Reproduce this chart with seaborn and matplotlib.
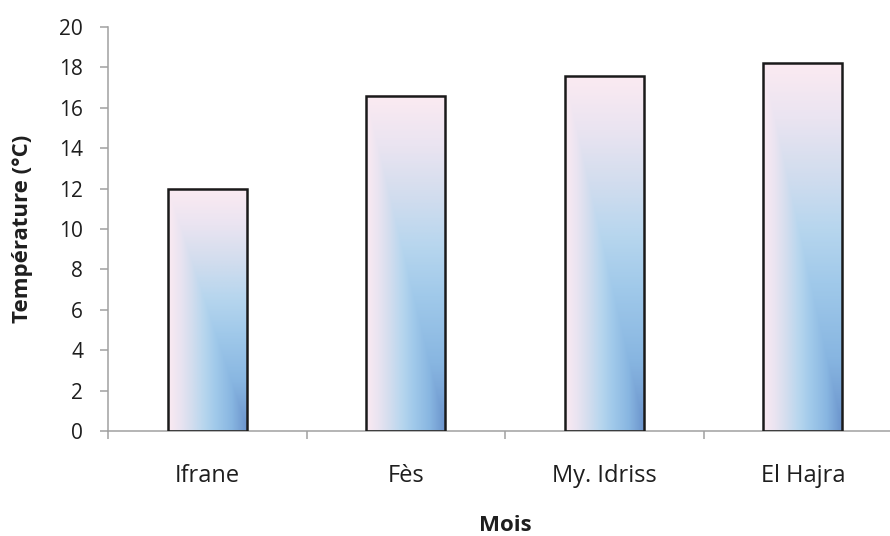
import numpy as np
import pandas as pd
import matplotlib
matplotlib.use("Agg")
import matplotlib.pyplot as plt
from matplotlib.colors import LinearSegmentedColormap
from matplotlib.ticker import FixedLocator
import seaborn as sns

# Mean temperature per station
sites = ["Ifrane", "Fès", "My. Idriss", "El Hajra"]
temperatures = [12.0, 16.6, 17.55, 18.2]
y_ticks = [0, 2, 4, 6, 8, 10, 12, 14, 16, 18, 20]

df = pd.DataFrame({"Site": sites, "Température": temperatures})

sns.set_style("white")
plt.rcParams["font.family"] = ["Open Sans", "DejaVu Sans"]

AXIS_GREY = "#A0A0A0"
TEXT = "#1e1e1e"

fig = plt.figure(figsize=(8.9, 5.36), dpi=100)
ax = fig.add_axes([108 / 890, 105 / 536, 794 / 890, 404 / 536])

sns.barplot(data=df, x="Site", y="Température", ax=ax, width=0.4,
            color="#9cc3e6", edgecolor="#1a1a1a", linewidth=1.8)

# Corner gradient inside each bar: pink along the left and top edges,
# deepening to blue towards the bottom-right corner.
cmap = LinearSegmentedColormap.from_list(
    "pinkblue",
    [(0.0, "#FBEAF2"), (0.15, "#EAE4F1"), (0.3, "#D2DDEE"),
     (0.45, "#B7D6EE"), (0.6, "#A0C9EA"), (0.8, "#88B6E1"),
     (1.0, "#6A92CB")])
n = 300
gx = np.linspace(0, 1, n)[None, :]
gy = np.linspace(0, 1, n)[:, None]          # 0 at top, 1 at bottom
grad = np.minimum(np.broadcast_to(gx, (n, n)), np.broadcast_to(gy, (n, n)))

for patch in ax.patches:
    x0, y0 = patch.get_x(), patch.get_y()
    w, h = patch.get_width(), patch.get_height()
    ax.imshow(grad, cmap=cmap, vmin=0, vmax=1, aspect="auto",
              extent=[x0, x0 + w, y0, y0 + h], origin="upper",
              interpolation="bilinear", zorder=2)
    patch.set_facecolor("none")
    patch.set_zorder(3)

ax.set_xlim(-0.5, len(sites) - 0.5)
ax.set_ylim(0, 20)
ax.yaxis.set_major_locator(FixedLocator(y_ticks))

for side in ("top", "right"):
    ax.spines[side].set_visible(False)
for side in ("left", "bottom"):
    ax.spines[side].set_color(AXIS_GREY)
    ax.spines[side].set_linewidth(1.1)

ax.tick_params(axis="y", which="major", direction="out", length=6, width=1.1,
               color=AXIS_GREY, labelsize=15, labelcolor=TEXT, pad=12, left=True)
ax.xaxis.set_minor_locator(FixedLocator(np.arange(-0.5, len(sites), 1.0)))
ax.tick_params(axis="x", which="major", length=0, labelsize=17,
               labelcolor=TEXT, pad=24, bottom=True)
ax.tick_params(axis="x", which="minor", direction="out", length=6, width=1.1,
               color=AXIS_GREY, bottom=True)

ax.set_xlabel("Mois", fontsize=16, fontweight="bold", color=TEXT,
              va="center", ha="center")
ax.xaxis.set_label_coords(0.5, -0.234)
ax.set_ylabel("Température (°C)", fontsize=16, fontweight="bold", color=TEXT,
              va="center", ha="center")
ax.yaxis.set_label_coords(-0.108, 0.5)

fig.savefig("out.png", dpi=100)
